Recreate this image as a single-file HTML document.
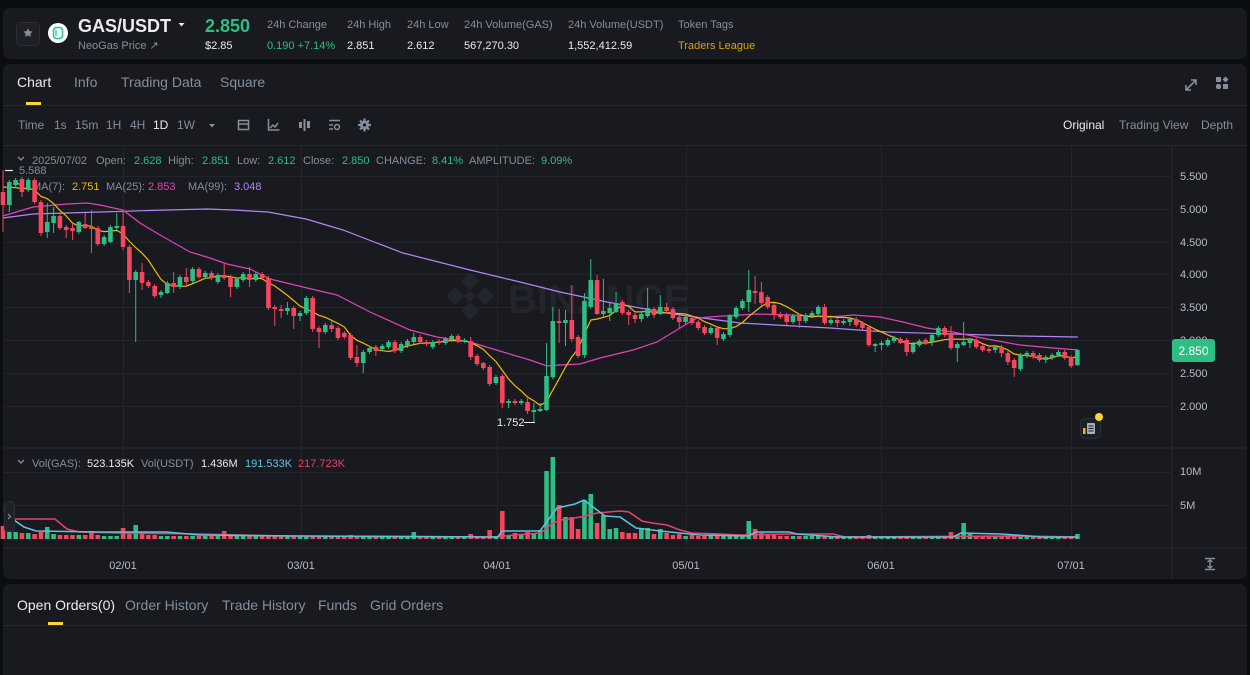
<!DOCTYPE html>
<html><head><meta charset="utf-8">
<style>
html,body{margin:0;padding:0;background:#0b0e11;}
body{width:1250px;height:675px;overflow:hidden;position:relative;font-family:"Liberation Sans",sans-serif;}
svg{position:absolute;left:0;top:0;display:block;}
text{font-family:"Liberation Sans",sans-serif;}
</style></head>
<body>
<svg id="s" width="1250" height="675" viewBox="0 0 1250 675" xmlns="http://www.w3.org/2000/svg">
<rect x="0" y="0" width="1250" height="675" fill="#0b0e11"/>
<!-- panels -->
<rect x="3" y="8" width="1244" height="51" rx="7" fill="#181a20"/>
<rect x="3" y="64" width="1244" height="515" rx="7" fill="#181a20"/>
<rect x="3" y="584" width="1244" height="100" rx="7" fill="#181a20"/>

<!-- header -->
<rect x="16.5" y="22.5" width="23" height="23" rx="4" fill="#1e2026" stroke="#2b2f36"/>
<path d="M28 28.2 L29.4 31.1 L32.6 31.5 L30.3 33.7 L30.9 36.9 L28 35.4 L25.1 36.9 L25.7 33.7 L23.4 31.5 L26.6 31.1 Z" fill="#848e9c"/>
<circle cx="58" cy="33" r="10" fill="#ffffff"/>
<rect x="53.5" y="27.5" width="9" height="11" rx="3" fill="none" stroke="#26c6a0" stroke-width="1.6"/>
<path d="M56 30 v6" stroke="#26c6a0" stroke-width="1.3"/>
<text x="78" y="32" font-size="18" font-weight="bold" fill="#eaecef">GAS/USDT</text>
<path d="M178.5 23 h6 l-3 3.5 z" fill="#eaecef"/>
<text x="78" y="49" font-size="11" fill="#848e9c">NeoGas Price ↗</text>
<text x="205" y="32" font-size="18" font-weight="bold" fill="#2ebd85">2.850</text>
<text x="205" y="49" font-size="11" fill="#eaecef">$2.85</text>
<g font-size="11" fill="#848e9c">
<text x="267" y="28">24h Change</text>
<text x="347" y="28">24h High</text>
<text x="407" y="28">24h Low</text>
<text x="464" y="28">24h Volume(GAS)</text>
<text x="568" y="28">24h Volume(USDT)</text>
<text x="678" y="28">Token Tags</text>
</g>
<g font-size="11" fill="#eaecef">
<text x="267" y="49" fill="#2ebd85">0.190 +7.14%</text>
<text x="347" y="49">2.851</text>
<text x="407" y="49">2.612</text>
<text x="464" y="49">567,270.30</text>
<text x="568" y="49">1,552,412.59</text>
<text x="678" y="49" fill="#d8a20c">Traders League</text>
</g>

<!-- tabs -->
<g font-size="14">
<text x="17" y="87" fill="#eaecef">Chart</text>
<text x="74" y="87" fill="#848e9c">Info</text>
<text x="121" y="87" fill="#848e9c">Trading Data</text>
<text x="220" y="87" fill="#848e9c">Square</text>
</g>
<rect x="26" y="102" width="15" height="3" fill="#fcd535"/>
<rect x="3" y="105" width="1244" height="1" fill="#262930"/>
<!-- expand + grid icons -->
<g stroke="#848e9c" stroke-width="1.6" fill="none">
<path d="M1186 90 L1196 80 M1191 80 h5 v5 M1186 85 v5 h5"/>
</g>
<g fill="#848e9c">
<rect x="1216" y="77" width="5" height="5"/><rect x="1216" y="84" width="5" height="5" rx="2"/><rect x="1223" y="84" width="5" height="5"/>
<path d="M1225.5 76.5 l3 3 l-3 3 l-3 -3 z"/>
</g>

<!-- toolbar -->
<g font-size="12" fill="#848e9c">
<text x="18" y="129">Time</text>
<text x="54" y="129">1s</text>
<text x="75" y="129">15m</text>
<text x="106" y="129">1H</text>
<text x="130" y="129">4H</text>
<text x="153" y="129" fill="#eaecef">1D</text>
<text x="177" y="129">1W</text>
</g>
<path d="M209 124 h6 l-3 3.5 z" fill="#848e9c"/>
<g fill="#848e9c" stroke="#848e9c">
<rect x="238.5" y="120.5" width="10" height="9" fill="none" stroke-width="1.5"/><path d="M238 124 h11" stroke-width="1.5"/>
<path d="M268.5 119 v11 h11 M270 128 l3 -3 l2 2 l3 -4" fill="none" stroke-width="1.5"/>
<rect x="299" y="122" width="3" height="6" stroke="none"/><rect x="303.5" y="119" width="2" height="12" stroke="none"/><rect x="307" y="121" width="3" height="7" stroke="none"/>
<path d="M329 120.5 h11 M329 125 h4 M329 129 h4" stroke-width="1.5"/><circle cx="337" cy="127" r="2.5" fill="none" stroke-width="1.5"/>
<circle cx="364.5" cy="125" r="4.5" stroke="none"/><circle cx="364.5" cy="125" r="1.6" fill="#181a20" stroke="none"/>
<path d="M364.5 118.5 v13 M358 125 h13 M360 120.5 l9 9 M369 120.5 l-9 9" stroke-width="2.2"/>
<circle cx="364.5" cy="125" r="1.6" fill="#181a20" stroke="none"/>
</g>
<g font-size="12" fill="#848e9c">
<text x="1063" y="129" fill="#eaecef">Original</text>
<text x="1119" y="129">Trading View</text>
<text x="1201" y="129">Depth</text>
</g>
<rect x="3" y="145" width="1244" height="1" fill="#262930"/>

<!-- grid -->
<g stroke="#22252b" stroke-width="1" id="grid"></g>
<rect x="3" y="447.5" width="1244" height="1" fill="#262930"/>
<rect x="3" y="547.5" width="1244" height="1" fill="#262930"/>
<rect x="1171.5" y="146" width="1" height="433" fill="#262930"/>

<!-- watermark -->
<g fill="#22252c">
<path d="M470 272 l9 9 l-9 9 l-9 -9 z M470 302 l9 9 l-9 9 l-9 -9 z M455 287 l9 9 l-9 9 l-9 -9 z M485 287 l9 9 l-9 9 l-9 -9 z M470 290 l6 6 l-6 6 l-6 -6 z"/>
<text x="508" y="313" font-size="40" font-weight="bold">BINANCE</text>
</g>

<!-- legends -->
<g font-size="11">
<path d="M18 157 l3 3 l3 -3" stroke="#848e9c" stroke-width="1.3" fill="none"/>
<text x="32" y="164" fill="#848e9c">2025/07/02</text>
<text x="96" y="164" fill="#848e9c">Open:</text><text x="134" y="164" fill="#2ebd85">2.628</text>
<text x="168" y="164" fill="#848e9c">High:</text><text x="202" y="164" fill="#2ebd85">2.851</text>
<text x="237" y="164" fill="#848e9c">Low:</text><text x="268" y="164" fill="#2ebd85">2.612</text>
<text x="303" y="164" fill="#848e9c">Close:</text><text x="342" y="164" fill="#2ebd85">2.850</text>
<text x="376" y="164" fill="#848e9c">CHANGE:</text><text x="432" y="164" fill="#2ebd85">8.41%</text>
<text x="469" y="164" fill="#848e9c">AMPLITUDE:</text><text x="541" y="164" fill="#2ebd85">9.09%</text>
<path d="M18 183 l3 3 l3 -3" stroke="#848e9c" stroke-width="1.3" fill="none"/>
<text x="32" y="190" fill="#848e9c">MA(7):</text><text x="72" y="190" fill="#f0b90b">2.751</text>
<text x="106" y="190" fill="#848e9c">MA(25):</text><text x="148" y="190" fill="#e043b5">2.853</text>
<text x="188" y="190" fill="#848e9c">MA(99):</text><text x="234" y="190" fill="#b385f8">3.048</text>
<path d="M18 460 l3 3 l3 -3" stroke="#848e9c" stroke-width="1.3" fill="none"/>
<text x="32" y="467" fill="#848e9c">Vol(GAS):</text><text x="87" y="467" fill="#eaecef">523.135K</text>
<text x="141" y="467" fill="#848e9c">Vol(USDT)</text><text x="201" y="467" fill="#eaecef">1.436M</text>
<text x="245" y="467" fill="#5cc3da">191.533K</text><text x="298" y="467" fill="#e5416b">217.723K</text>
</g>

<g id="ma"></g>
<g id="cd"></g>
<g id="vol"></g>
<g id="vma"></g>

<!-- high/low markers -->
<path d="M5 170.5 h8" stroke="#eaecef" stroke-width="1.2"/>
<text x="19" y="174" font-size="11" fill="#848e9c">5.588</text>
<text x="497" y="426" font-size="11" fill="#eaecef">1.752</text>
<path d="M524 422.5 h11" stroke="#eaecef" stroke-width="1"/>

<!-- axis labels -->
<g font-size="11" fill="#b7bdc6">
<text x="1180" y="180">5.500</text>
<text x="1180" y="213">5.000</text>
<text x="1180" y="246">4.500</text>
<text x="1180" y="278">4.000</text>
<text x="1180" y="311">3.500</text>
<text x="1180" y="344">3.000</text>
<text x="1180" y="377">2.500</text>
<text x="1180" y="410">2.000</text>
<text x="1180" y="475">10M</text>
<text x="1180" y="509">5M</text>
</g>
<rect x="1172" y="339" width="43" height="23" rx="3" fill="#2ebd85"/>
<text x="1193.5" y="355" font-size="12" fill="#ffffff" text-anchor="middle">2.850</text>
<g font-size="11" fill="#b7bdc6" text-anchor="middle">
<text x="123" y="569">02/01</text>
<text x="301" y="569">03/01</text>
<text x="497" y="569">04/01</text>
<text x="686" y="569">05/01</text>
<text x="881" y="569">06/01</text>
<text x="1071" y="569">07/01</text>
</g>
<g stroke="#848e9c" stroke-width="1.4" fill="none">
<path d="M1205 558.5 h10 M1205 569.5 h10 M1210 560 v8 M1207.5 562 l2.5 -2 l2.5 2 M1207.5 566 l2.5 2 l2.5 -2"/>
</g>
<!-- left handle -->
<rect x="4.5" y="501.5" width="10" height="30" rx="3" fill="#1e2126" stroke="#2b2f36"/>
<path d="M8 514 l2.5 2.5 l-2.5 2.5" stroke="#848e9c" stroke-width="1.2" fill="none"/>
<!-- notes icon -->
<rect x="1080.5" y="418.5" width="20" height="20" rx="5" fill="#1c1f25" stroke="#2b2f36"/>
<rect x="1087" y="423" width="8" height="11" rx="1" fill="#aab0bb"/>
<path d="M1088.5 426 h5 M1088.5 428.5 h5 M1088.5 431 h5" stroke="#1c1f25" stroke-width="1"/>
<rect x="1083" y="428" width="2.5" height="6" fill="#f0b90b"/>
<circle cx="1099" cy="417" r="4" fill="#fcd535"/>

<!-- orders -->
<g font-size="14">
<text x="17" y="610" fill="#eaecef">Open Orders(0)</text>
<text x="125" y="610" fill="#848e9c">Order History</text>
<text x="222" y="610" fill="#848e9c">Trade History</text>
<text x="318" y="610" fill="#848e9c">Funds</text>
<text x="370" y="610" fill="#848e9c">Grid Orders</text>
</g>
<rect x="48" y="622" width="15" height="3" fill="#fcd535"/>
<rect x="3" y="625" width="1244" height="1" fill="#262930"/>
</svg>
<script>
(function(){
var NS="http://www.w3.org/2000/svg";
function el(tag,attrs,parent){var e=document.createElementNS(NS,tag);for(var k in attrs)e.setAttribute(k,attrs[k]);parent.appendChild(e);return e;}
var grid=document.getElementById('grid');
[176,209,242,274,307,340,373,406,472,505].forEach(function(y){el('line',{x1:3,x2:1171,y1:y+0.5,y2:y+0.5},grid);});
[123,301,497,686,881,1071].forEach(function(x){el('line',{x1:x+0.5,x2:x+0.5,y1:146,y2:548},grid);});
var D=[[192,205,170,232],[205,182,180,212],[185,180,178,188],[179,192,177,197],[190,180,178,192],[180,202,178,204],[202,233,200,236],[232,222,203,238],[223,216,207,233],[216,228,214,230],
[227,230,225,238],[228,231,223,240],[232,222,221,234],[224,228,213,229],[227,229,210,253],[228,244,226,246],[244,237,235,246],[242,227,225,243],[228,226,213,230],[226,247,210,250],
[247,280,245,293],[280,272,270,342],[272,283,263,290],[282,286,280,288],[286,296,284,298],[295,292,290,298],[293,283,281,294],[283,287,272,293],[287,277,275,289],[277,282,268,285],
[281,269,267,283],[269,277,267,279],[277,273,271,279],[273,278,271,280],[282,275,273,284],[275,278,264,280],[277,287,275,297],[287,279,277,289],[280,274,272,282],[274,280,267,287],
[280,274,272,282],[274,278,272,280],[278,308,276,310],[307,309,305,326],[309,311,305,318],[311,308,302,315],[308,316,306,329],[316,313,311,321],[313,298,296,315],[298,329,296,332],
[328,332,326,348],[332,325,323,334],[325,329,321,332],[328,338,326,340],[333,337,331,339],[335,358,333,360],[357,363,345,367],[363,352,350,373],[352,348,346,354],[347,351,345,356],
[349,346,344,351],[347,342,340,349],[342,351,340,353],[351,344,342,353],[346,341,339,348],[342,337,333,344],[337,342,335,344],[342,344,340,346],[347,342,340,349],[341,343,339,345],
[343,339,337,345],[340,336,334,342],[336,341,334,343],[341,340,338,343],[341,357,337,360],[356,364,354,366],[363,368,362,370],[367,384,365,386],[383,377,375,385],[376,403,374,408],
[403,401,399,408],[401,403,399,405],[403,401,399,405],[402,411,397,414],[412,410,403,423],[411,409,403,412],[410,376,343,411],[377,321,307,379],[321,323,309,343],[323,320,310,346],
[320,339,285,342],[337,356,335,358],[355,301,293,358],[307,280,259,309],[280,314,275,315],[314,311,279,317],[313,308,303,321],[312,303,292,313],[302,313,300,315],[312,315,310,325],
[315,319,313,323],[319,314,312,322],[316,308,288,318],[309,315,307,318],[314,307,295,315],[307,311,303,314],[309,318,307,320],[317,322,315,328],[322,317,315,324],[318,323,316,325],
[322,328,320,330],[327,333,325,335],[333,328,326,335],[328,338,326,345],[339,334,332,341],[335,316,314,337],[317,308,306,319],[308,301,299,310],[302,290,270,312],[291,293,276,304],
[292,303,282,305],[297,307,295,309],[305,315,303,320],[314,317,312,319],[315,322,313,325],[322,316,314,324],[316,321,314,328],[321,315,313,323],[316,313,311,318],[314,307,305,316],
[307,323,304,325],[323,320,318,325],[320,323,318,327],[323,321,319,325],[322,319,317,326],[319,325,317,327],[323,328,321,330],[327,345,325,347],[346,344,343,352],[345,343,341,350],
[345,340,338,347],[341,338,336,343],[339,343,337,344],[340,352,338,356],[352,344,342,354],[345,341,339,347],[340,343,338,345],[342,335,333,346],[335,328,326,337],[328,335,326,337],
[334,348,326,350],[348,344,342,362],[345,342,322,346],[343,340,338,348],[340,347,338,349],[346,350,344,352],[349,351,347,353],[350,347,345,353],[347,353,345,357],[353,362,351,365],
[360,368,358,377],[369,355,353,371],[356,353,351,358],[353,357,351,359],[355,360,353,362],[360,357,355,363],[358,355,353,360],[355,352,350,357],[352,358,350,360],[357,366,355,368],
[365,350,349,366]];
var V={0:13,1:7,2:7,3:6,4:6,5:5,6:7,7:12,8:5,9:4,10:4,11:4,12:4,13:4,14:8,15:4,19:11,20:5,21:14,22:5,23:4,24:4,35:8,55:4,65:7,74:5,77:9,79:28,80:4,81:6,82:4,83:7,84:5,85:9,86:68,87:82,88:34,89:22,90:22,91:10,92:39,93:45,94:16,95:24,96:10,97:11,98:7,99:6,100:6,101:11,102:11,103:5,104:10,105:6,106:4,107:5,109:4,118:18,119:10,120:6,121:5,122:4,137:4,150:7,151:4,152:16,153:5,170:5};
var G="#2ebd85",R="#f6465d";
var cd=document.getElementById('cd'),vol=document.getElementById('vol');
function X(i){return 3+i*6.32;}
D.forEach(function(d,i){
 var o=d[0],c=d[1],h=d[2],l=d[3],x=X(i);
 var col=c<=o?G:R;
 el('line',{x1:x,x2:x,y1:h,y2:l,stroke:col,'stroke-width':1},cd);
 var top=Math.min(o,c),ht=Math.max(1,Math.abs(o-c));
 el('rect',{x:x-2.3,y:top,width:4.6,height:ht,fill:col},cd);
 var v=V[i]!==undefined?V[i]:3;
 el('rect',{x:x-2.3,y:539-v,width:4.6,height:v,fill:col},vol);
});
// MA7
var pre=[180,178,185,183,188,190];
var closes=pre.concat(D.map(function(d){return d[1];}));
var pts=[];
for(var i=0;i<D.length;i++){var s=0;for(var k=0;k<7;k++)s+=closes[i+6-k];pts.push(X(i).toFixed(1)+','+(s/7).toFixed(1));}
var ma=document.getElementById('ma');
el('polyline',{points:"3,218 33,214 100,212 167,210 207,209 233,210 268,212 306,219 343,230 356,235 403,253 470,270 520,282 560,292 607,302 673,314 740,323 830,328 887,332 953,334 1020,336 1078,337",fill:'none',stroke:'#b385f8','stroke-width':1.2},ma);
el('polyline',{points:"3,216 33,207 67,204 87,203 100,205 123,210 140,223 160,235 190,252 210,258 227,264 250,269 270,279 303,287 337,295 370,312 410,330 437,337 470,342 503,352 530,360 547,366 560,365 580,364 600,358 633,350 657,342 680,328 697,318 723,316 757,314 790,315 830,317 853,315 880,317 903,322 927,328 953,332 987,339 1020,345 1053,348 1078,350",fill:'none',stroke:'#e043b5','stroke-width':1.2},ma);
el('polyline',{points:pts.join(' '),fill:'none',stroke:'#f0b90b','stroke-width':1.2},ma);
var vma=document.getElementById('vma');
el('polyline',{points:"4,520 16,519 55,519 67,529 79,532 119,533 198,534 277,536 494,537 514,535 541,533 553,523 561,520 581,517 597,513 620,511 629,512 642,521 652,523 667,525 680,530 692,533 720,534 740,535 789,534 833,534 845,537 1022,536 1078,537",fill:'none',stroke:'#e5416b','stroke-width':1.6},vma);
el('polyline',{points:"4,510 14,520 24,527 36,531 100,532 166,532 200,535 300,536 498,537 502,531 540,531 557,508 575,504 584,500 593,507 605,516 620,517 636,528 660,531 680,533 700,535 748,536 756,532 789,532 797,534 837,537 953,537 961,533 1001,534 1042,537 1078,537",fill:'none',stroke:'#5cc3da','stroke-width':1.6},vma);
})();
</script>
</body></html>
